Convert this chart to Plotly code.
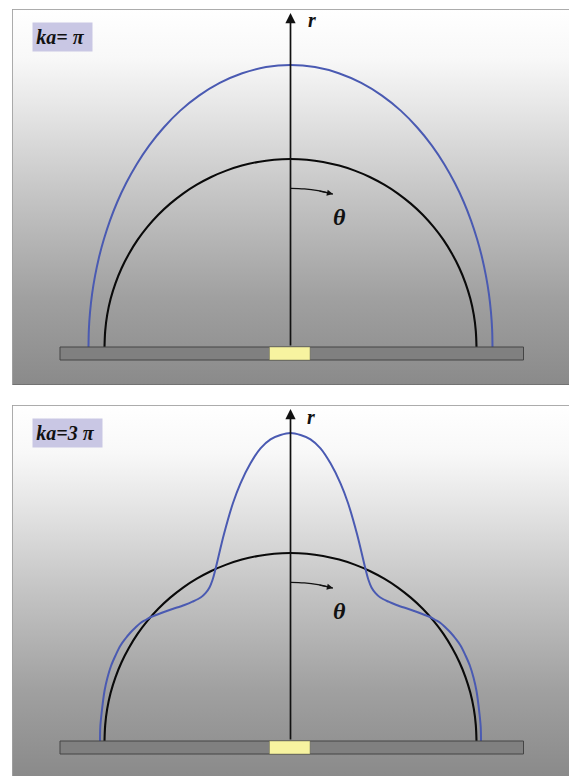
import numpy as np
import plotly.graph_objects as go

# angle from the r axis in degrees, radius (px above the plate centre)
angles = [0, 5, 10, 15, 20, 25, 30, 35, 40, 45, 50, 55, 60, 65, 70, 75, 80, 85, 90]
circle_r = [188, 188, 187.9, 187.8, 187.7, 187.6, 187.4, 187.3, 187.1, 187, 186.8, 186.7, 186.5, 186.4, 186.3, 186.2,
            186.1, 186, 186]
blue_r_pi = [282, 281, 278, 273.4, 267.5, 260.8, 253.5, 246.2, 239, 232.2, 226, 220.4, 215.5, 211.4, 208, 205.4,
             203.5, 202.4, 202]

# ka = 3 pi curve, right half, read as offset and height
blue_dx_3pi = [0, 10, 20, 30, 40, 50, 57.5, 66.5, 75.5, 78, 81, 85, 89.5, 98, 106, 123, 139.5, 145, 150, 155, 160, 165,
               170, 175, 179.5, 183, 186, 189, 190.2, 190.5]
blue_dy_3pi = [308, 306, 301.7, 292.7, 277.7, 257.7, 238, 207, 170, 161, 153.5, 147.8, 143.7, 139.3, 136, 130.3, 124,
               121, 118, 113.5, 108.5, 102.5, 95.5, 85.5, 75, 63.5, 50, 27, 14, 0]

theta_angles = [0, 5, 10, 15.5]
theta_r = [158.7, 158.7, 158.7, 158.7]

grey_stops = [[0, "#ffffff"], [0.13, "#f8f8f8"], [0.25, "#e8e8e8"], [0.5, "#c4c4c4"], [0.77, "#a0a0a0"], [1, "#8a8a8a"]]

BLUE = "#4a5ab2"
SERIF = "Liberation Serif"
X_RANGE = [-278, 278.5]

fig = go.Figure()


def polar_xy(ang, r):
    rad = np.radians(ang)
    return np.array(r) * np.sin(rad), np.array(r) * np.cos(rad)


def add_panel(row, y_range, blue_x, blue_y, label, label_w, arrow_top, r_pos):
    xa = "x" if row == 1 else "x2"
    ya = "y" if row == 1 else "y2"
    x0, x1 = X_RANGE
    y0, y1 = y_range

    # background
    fig.add_trace(go.Scatter(x=[x0, x1, x1, x0, x0], y=[y0, y0, y1, y1, y0], xaxis=xa, yaxis=ya,
                             mode="lines", line=dict(width=0), fill="toself",
                             fillgradient=dict(type="vertical", colorscale=[[1 - s, c] for s, c in reversed(grey_stops)]),
                             hoverinfo="skip", showlegend=False))
    # frame, the lower panel runs off the page
    frame_x = [x1, x0, x0, x1] if row == 1 else [x1, x0, x0]
    frame_y = [y1, y1, y0, y0] if row == 1 else [y1, y1, y0]
    fig.add_trace(go.Scatter(x=frame_x, y=frame_y, xaxis=xa, yaxis=ya, mode="lines",
                             line=dict(color="#5a5a5a", width=1), hoverinfo="skip", showlegend=False))
    # black reference circle
    cx, cy = polar_xy(angles, circle_r)
    fig.add_trace(go.Scatter(x=np.r_[-cx[::-1], cx[1:]], y=np.r_[cy[::-1], cy[1:]], xaxis=xa, yaxis=ya,
                             mode="lines", line=dict(color="#0a0a0a", width=2.1, shape="spline"),
                             hoverinfo="skip", showlegend=False))
    # radiation pattern
    fig.add_trace(go.Scatter(x=blue_x, y=blue_y, xaxis=xa, yaxis=ya,
                             mode="lines", line=dict(color=BLUE, width=2, shape="spline"),
                             hoverinfo="skip", showlegend=False))
    # theta arc
    tx, ty = polar_xy(theta_angles, theta_r)
    fig.add_trace(go.Scatter(x=tx, y=ty, xaxis=xa, yaxis=ya,
                             mode="lines", line=dict(color="#111111", width=1.2, shape="spline"),
                             hoverinfo="skip", showlegend=False))
    # plate and piston
    fig.add_shape(type="rect", xref=xa, yref=ya, x0=-230.5, x1=233, y0=-13, y1=0,
                  fillcolor="#808080", line=dict(color="#444444", width=1))
    fig.add_shape(type="rect", xref=xa, yref=ya, x0=-21, x1=19.5, y0=-13, y1=0,
                  fillcolor="#f7f3a0", line=dict(color="#777755", width=0.5))
    # r axis arrow
    fig.add_annotation(xref=xa, yref=ya, axref=xa, ayref=ya, x=0, y=arrow_top, ax=0, ay=0, text="",
                       showarrow=True, arrowhead=2, arrowsize=1.2, arrowwidth=1.7, arrowcolor="#111111")
    # arrow tip of the theta arc
    fig.add_annotation(xref=xa, yref=ya, axref=xa, ayref=ya, x=tx[-1], y=ty[-1], ax=tx[-2], ay=ty[-2], text="",
                       showarrow=True, arrowhead=2, arrowsize=1.0, arrowwidth=1.2, arrowcolor="#111111")
    fig.add_annotation(xref=xa, yref=ya, x=r_pos[0], y=r_pos[1], text="<b><i>r</i></b>", showarrow=False,
                       font=dict(family=SERIF, size=20, color="#111111"))
    fig.add_annotation(xref=xa, yref=ya, x=49, y=130, text="<b><i>θ</i></b>", showarrow=False,
                       font=dict(family=SERIF, size=24, color="#111111"))
    # ka label box
    fig.add_annotation(xref=xa, yref=ya, x=-259, y=y1 - 13, xanchor="left", yanchor="top",
                       text="<b><i>" + label + "</i></b>&nbsp;",
                       showarrow=False, width=label_w, height=28, align="center", valign="middle", bgcolor="#c9c7e4",
                       borderpad=0, font=dict(family=SERIF, size=20, color="#111111"))


bx, by = polar_xy(angles, blue_r_pi)
add_panel(1, [-38, 338], np.r_[-bx[::-1], bx[1:]], np.r_[by[::-1], by[1:]], "ka= π", 59, 334, (21, 327))
dx = np.array(blue_dx_3pi)
dy = np.array(blue_dy_3pi)
add_panel(2, [-35, 336], np.r_[-dx[::-1], dx[1:]], np.r_[dy[::-1], dy[1:]], "ka=3 π", 69, 332, (20, 324))

axis_style = dict(visible=False, fixedrange=True)
fig.update_layout(
    width=569, height=776, margin=dict(l=0, r=0, t=0, b=0),
    paper_bgcolor="white", plot_bgcolor="rgba(0,0,0,0)", showlegend=False,
    xaxis=dict(domain=[12.5 / 569, 1], range=X_RANGE, anchor="y", **axis_style),
    yaxis=dict(domain=[391 / 776, 767 / 776], range=[-38, 338], anchor="x", **axis_style),
    xaxis2=dict(domain=[12.5 / 569, 1], range=X_RANGE, anchor="y2", **axis_style),
    yaxis2=dict(domain=[0, 371 / 776], range=[-35, 336], anchor="x2", **axis_style),
)

fig.write_html("out.html", config={"displayModeBar": False},
               post_script="document.body.style.margin='0';document.body.style.overflow='hidden';")
